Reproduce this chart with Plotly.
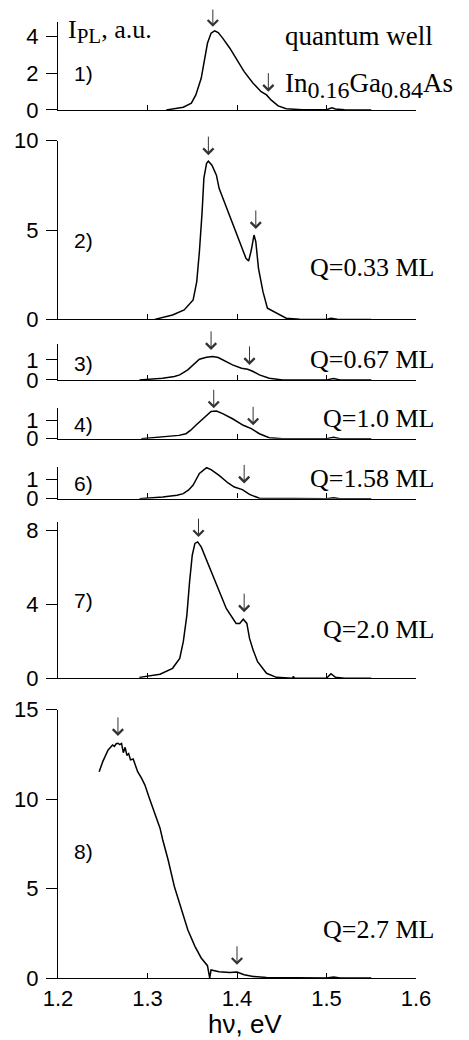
import plotly.graph_objects as go

# ---------------- data ----------------
e1 = [1.321, 1.325, 1.340, 1.349, 1.354, 1.360, 1.364, 1.367, 1.371, 1.375, 1.379, 1.384, 1.392,
      1.399, 1.408, 1.418, 1.427, 1.433, 1.438, 1.446, 1.455, 1.473, 1.500, 1.506, 1.510, 1.520, 1.550]
i1 = [0.0, 0.04, 0.15, 0.37, 0.82, 1.73, 2.73, 3.64, 4.19, 4.32, 4.22, 3.92, 3.37,
      2.83, 2.09, 1.46, 1.0, 0.82, 0.55, 0.22, 0.07, 0.01, 0.01, 0.12, 0.05, 0.01, 0.0]

e2 = [1.308, 1.328, 1.341, 1.351, 1.355, 1.358, 1.361, 1.363, 1.366, 1.368, 1.372, 1.377, 1.380,
      1.388, 1.397, 1.405, 1.410, 1.413, 1.416, 1.419, 1.421, 1.424, 1.429, 1.434, 1.440, 1.447,
      1.455, 1.470, 1.500, 1.505, 1.512, 1.550]
i2 = [0.0, 0.25, 0.53, 1.09, 2.1, 3.8, 6.0, 7.9, 8.73, 8.85, 8.63, 8.07, 7.33,
      6.3, 5.1, 4.16, 3.42, 3.27, 3.88, 4.72, 4.35, 2.86, 1.55, 0.63, 0.47, 0.25,
      0.07, 0.01, 0.0, 0.06, 0.01, 0.0]

e3 = [1.291, 1.317, 1.330, 1.336, 1.345, 1.353, 1.358, 1.366, 1.373, 1.379, 1.388, 1.395, 1.405,
      1.412, 1.418, 1.425, 1.436, 1.451, 1.500, 1.508, 1.515, 1.550]
i3 = [0.0, 0.08, 0.17, 0.25, 0.5, 0.83, 1.03, 1.13, 1.17, 1.12, 0.92, 0.75, 0.58,
      0.53, 0.42, 0.25, 0.08, 0.0, 0.0, 0.07, 0.0, 0.0]

e4 = [1.293, 1.317, 1.335, 1.343, 1.348, 1.354, 1.359, 1.364, 1.371, 1.377, 1.384, 1.395, 1.407,
      1.416, 1.425, 1.436, 1.451, 1.500, 1.508, 1.515, 1.550]
i4 = [0.0, 0.09, 0.18, 0.27, 0.45, 0.73, 0.97, 1.18, 1.49, 1.51, 1.37, 1.09, 0.73,
      0.55, 0.27, 0.05, 0.0, 0.0, 0.08, 0.0, 0.0]

e6 = [1.291, 1.317, 1.333, 1.340, 1.346, 1.351, 1.358, 1.366, 1.371, 1.380, 1.390, 1.397, 1.406,
      1.414, 1.425, 1.500, 1.508, 1.515, 1.550]
i6 = [0.0, 0.08, 0.18, 0.26, 0.45, 0.7, 1.3, 1.6, 1.5, 1.2, 0.81, 0.6, 0.47,
      0.22, 0.02, 0.0, 0.04, 0.0, 0.0]

e7 = [1.291, 1.314, 1.328, 1.336, 1.340, 1.344, 1.347, 1.350, 1.353, 1.356, 1.360, 1.367, 1.377,
      1.388, 1.399, 1.403, 1.407, 1.411, 1.414, 1.418, 1.423, 1.433, 1.444, 1.462, 1.463, 1.464,
      1.500, 1.505, 1.510, 1.520, 1.550]
i7 = [0.05, 0.22, 0.54, 1.08, 1.98, 3.42, 5.22, 6.66, 7.3, 7.38, 7.11, 6.3, 5.04,
      3.78, 2.97, 2.97, 3.2, 2.97, 2.16, 1.53, 0.9, 0.27, 0.05, 0.0, 0.1, 0.0,
      0.0, 0.25, 0.05, 0.0, 0.0]

e8 = [1.246, 1.250, 1.256, 1.261, 1.263, 1.265, 1.267, 1.269, 1.271, 1.273, 1.275, 1.277, 1.279,
      1.281, 1.284, 1.289, 1.293, 1.297, 1.302, 1.308, 1.314, 1.317, 1.323, 1.330, 1.338, 1.345,
      1.353, 1.360, 1.367, 1.3695, 1.371, 1.380, 1.392, 1.400, 1.408, 1.418, 1.433, 1.500, 1.508,
      1.515, 1.550]
i8 = [11.54, 12.1, 12.75, 13.03, 12.95, 13.1, 13.13, 13.05, 13.12, 12.6, 12.9, 12.45, 12.55,
      12.2, 12.25, 11.54, 11.2, 10.8, 10.06, 9.22, 8.38, 7.73, 6.61, 5.12, 3.82, 2.70,
      1.77, 1.12, 0.69, 0.0, 0.45, 0.35, 0.31, 0.33, 0.18, 0.09, 0.03, 0.0, 0.05,
      0.0, 0.0]

energies = [e1, e2, e3, e4, e6, e7, e8]
intensities = [i1, i2, i3, i4, i6, i7, i8]
panel_labels = ["1)", "2)", "3)", "4)", "6)", "7)", "8)"]
q_labels = ["", "Q=0.33 ML", "Q=0.67 ML", "Q=1.0 ML", "Q=1.58 ML", "Q=2.0 ML", "Q=2.7 ML"]
y_ranges = [[0, 4.8], [0, 10], [0, 1.8], [0, 1.7], [0, 1.66], [0, 8.45], [0, 15]]
y_ticks = [[0, 2, 4], [0, 5, 10], [0, 1], [0, 1], [0, 1], [0, 4, 8], [0, 5, 10, 15]]
x_ticks = [1.2, 1.3, 1.4, 1.5, 1.6]
x_ticklabels = ["1.2", "1.3", "1.4", "1.5", "1.6"]

# arrows: (panel index, x of tip, y of tip)
arrow_panel = [0, 0, 1, 1, 2, 2, 3, 3, 4, 4, 5, 5, 6, 6]
arrow_x = [1.373, 1.435, 1.368, 1.421, 1.371, 1.414, 1.374, 1.418, 1.367, 1.408, 1.357, 1.408, 1.267, 1.400]
arrow_y = [4.54, 1.0, 9.19, 5.06, 1.5, 0.75, 1.66, 0.73, 1.73, 0.79, 7.64, 3.58, 13.54, 0.74]

# ---------------- layout geometry ----------------
# The page body has a default 8 px margin, so figure coordinates are shifted by it.
W, H = 469, 1040
OFF = 8
ML, MT = 50, 0           # plot area starts at screen (58, 8)
PW = 358.3               # 1.2 .. 1.6
PH = 970.3               # screen 8 .. 978.3
MR = W - ML - PW
MB = H - MT - PH


def fx(px):
    """screen pixel x -> paper fraction"""
    return (px - OFF - ML) / PW


def fy(py):
    """screen pixel y -> paper fraction"""
    return (PH + MT - (py - OFF)) / PH


# panel screen-pixel extents (bottom, top)
panel_px = [(110, 22), (319.5, 140.7), (380, 344), (438.8, 407.7), (498.8, 466.7), (678.5, 522.3), (978.3, 710)]
label_py = [74, 241, 364, 425, 484, 601, 852]
q_py = [0, 268, 360, 419, 479, 630, 930]

SANS = "Liberation Sans, Arial, sans-serif"
SERIF = "Liberation Serif, Times New Roman, serif"

fig = go.Figure()
layout = dict(
    template="none",
    width=W, height=H,
    margin=dict(l=ML, r=MR, t=MT, b=MB, pad=0),
    paper_bgcolor="white", plot_bgcolor="white",
    showlegend=False,
)

n = len(energies)
annotations = []
for k in range(n):
    idx = "" if k == 0 else str(k + 1)
    fig.add_trace(go.Scatter(
        x=energies[k], y=intensities[k], mode="lines",
        line=dict(color="black", width=1.5),
        xaxis="x" + idx, yaxis="y" + idx, hoverinfo="skip",
    ))
    b, t = panel_px[k]
    layout["xaxis" + idx] = dict(
        domain=[0, 1], anchor="y" + idx, range=[1.2, 1.6], automargin=False,
        showline=True, linecolor="black", linewidth=1.3,
        ticks="inside", ticklen=5, tickwidth=1.3, tickcolor="black",
        tickvals=x_ticks, ticktext=x_ticklabels,
        showticklabels=(k == n - 1),
        tickfont=dict(family=SANS, size=22, color="black"),
        showgrid=False, zeroline=False, fixedrange=True,
    )
    layout["yaxis" + idx] = dict(
        domain=[fy(b), fy(t)], anchor="x" + idx, range=y_ranges[k], automargin=False,
        showline=True, linecolor="black", linewidth=1.3,
        ticks="outside", ticklen=11, tickwidth=1.3, tickcolor="black",
        tickvals=y_ticks[k],
        tickfont=dict(family=SANS, size=22, color="black"),
        ticklabelstandoff=3,
        showgrid=False, zeroline=False, fixedrange=True,
    )
    annotations.append(dict(
        text=panel_labels[k], xref="paper", yref="paper",
        x=fx(72), y=fy(label_py[k]), xanchor="left", yanchor="middle",
        showarrow=False, font=dict(family=SANS, size=21, color="black"),
    ))
    if q_labels[k]:
        annotations.append(dict(
            text=q_labels[k], xref="paper", yref="paper",
            x=fx(436), y=fy(q_py[k]), xanchor="right", yanchor="middle",
            showarrow=False, font=dict(family=SERIF, size=26, color="black"),
        ))

for p, ax_, ay_ in zip(arrow_panel, arrow_x, arrow_y):
    idx = "" if p == 0 else str(p + 1)
    annotations.append(dict(
        text="", x=ax_, y=ay_, xref="x" + idx, yref="y" + idx,
        showarrow=True, ax=0, ay=-20, arrowhead=4, arrowsize=2,
        arrowwidth=1, arrowcolor="#333333", standoff=0,
    ))

SUB_PL = "<sub><span style='font-size:21px'>{}</span></sub>"
SUB_QW = "<sub><span style='font-size:24px'>{}</span></sub>"
annotations.append(dict(
    text="I" + SUB_PL.format("PL") + ", a.u.", xref="paper", yref="paper",
    x=fx(66), y=fy(32), xanchor="left", yanchor="middle",
    showarrow=False, font=dict(family=SERIF, size=26, color="black"),
))
annotations.append(dict(
    text="quantum well", xref="paper", yref="paper",
    x=fx(283), y=fy(36), xanchor="left", yanchor="middle",
    showarrow=False, font=dict(family=SERIF, size=27, color="black"),
))
annotations.append(dict(
    text="In" + SUB_QW.format("0.16") + "Ga" + SUB_QW.format("0.84") + "As", xref="paper", yref="paper",
    x=fx(283), y=fy(86), xanchor="left", yanchor="middle",
    showarrow=False, font=dict(family=SERIF, size=27, color="black"),
))
annotations.append(dict(
    text="hν, eV", xref="paper", yref="paper",
    x=fx(245), y=fy(1024), xanchor="center", yanchor="middle",
    showarrow=False, font=dict(family=SANS, size=26, color="black"),
))

layout["annotations"] = annotations
fig.update_layout(**layout)
fig.write_html("out.html")
